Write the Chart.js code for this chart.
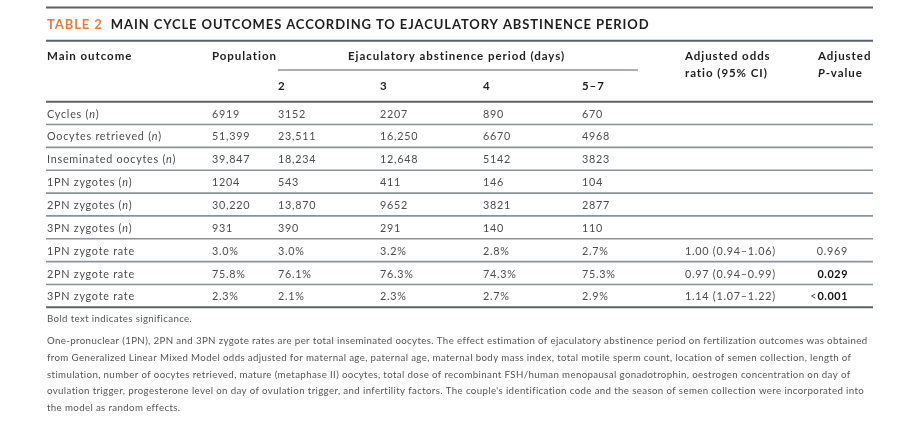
<!DOCTYPE html>
<html>
<head>
<meta charset="utf-8">
<script src="https://cdn.jsdelivr.net/npm/chart.js@4.4.1/dist/chart.umd.min.js"></script>
<style>
  html, body { margin: 0; padding: 0; background: #fff; }
  #wrap { position: relative; width: 920px; height: 431px; }
</style>
</head>
<body>
<div id="wrap"><canvas id="tableChart"></canvas></div>
<script>
// Rows of the table (y categories)
const rowLabels = ["Cycles (n)", "Oocytes retrieved (n)", "Inseminated oocytes (n)", "1PN zygotes (n)",
  "2PN zygotes (n)", "3PN zygotes (n)", "1PN zygote rate", "2PN zygote rate", "3PN zygote rate"];
const abstinenceLabels = ["2", "3", "4", "5–7"];

// Series values, one per column (counts, then rates in %)
const population = [6919, 51399, 39847, 1204, 30220, 931, 3.0, 75.8, 2.3];
const days2 = [3152, 23511, 18234, 543, 13870, 390, 3.0, 76.1, 2.1];
const days3 = [2207, 16250, 12648, 411, 9652, 291, 3.2, 76.3, 2.3];
const days4 = [890, 6670, 5142, 146, 3821, 140, 2.8, 74.3, 2.7];
const days5to7 = [670, 4968, 3823, 104, 2877, 110, 2.7, 75.3, 2.9];

// Adjusted odds ratio (95% CI) and adjusted P-value, only for the rate rows
const oddsRatio = [null, null, null, null, null, null, 1.00, 0.97, 1.14];
const ciLower = [null, null, null, null, null, null, 0.94, 0.94, 1.07];
const ciUpper = [null, null, null, null, null, null, 1.06, 0.99, 1.22];
const pValues = [null, null, null, null, null, null, 0.969, 0.029, 0.001];
const pBelow = [false, false, false, false, false, false, false, false, true];

const footLines = [
  "One-pronuclear (1PN), 2PN and 3PN zygote rates are per total inseminated oocytes. The effect estimation of ejaculatory abstinence period on fertilization outcomes was obtained",
  "from Generalized Linear Mixed Model odds adjusted for maternal age, paternal age, maternal body mass index, total motile sperm count, location of semen collection, length of",
  "stimulation, number of oocytes retrieved, mature (metaphase II) oocytes, total dose of recombinant FSH/human menopausal gonadotrophin, oestrogen concentration on day of",
  "ovulation trigger, progesterone level on day of ovulation trigger, and infertility factors. The couple's identification code and the season of semen collection were incorporated into",
  "the model as random effects."
];

// layout (column left edges in px, rules)
const L = { left: 46, right: 873, label: 47, pop: 212, d: [278, 380, 483, 582], or: 685, p: 848 };
const FONT = "Lato, 'Open Sans', sans-serif";
const TXT = "#4d4d4d", DARK = "#1e1e1e", RULE = "#5d6268", THIN = "#8a939c";

const isRate = rowLabels.map(r => r.indexOf("rate") >= 0);
function fmt(v, i) {
  if (isRate[i]) return v.toFixed(1) + "%";
  return v >= 10000 ? v.toLocaleString("en-US") : String(v);
}

function column(x, texts, extra) {
  const data = [], t = [];
  texts.forEach((s, i) => { if (s !== null) { data.push({ x: x, y: rowLabels[i] }); t.push(Object.assign({ text: s }, extra ? extra(i) : {})); } });
  return { data: data, cells: t, pointRadius: 0, pointHoverRadius: 0 };
}

const datasets = [
  column(L.label, rowLabels, () => ({ kind: "label" })),
  column(L.pop, population.map(fmt)),
  column(L.d[0], days2.map(fmt)),
  column(L.d[1], days3.map(fmt)),
  column(L.d[2], days4.map(fmt)),
  column(L.d[3], days5to7.map(fmt)),
  column(L.or, oddsRatio.map((v, i) => v === null ? null :
    v.toFixed(2) + " (" + ciLower[i].toFixed(2) + "–" + ciUpper[i].toFixed(2) + ")")),
  column(L.p, pValues.map(v => v === null ? null : v.toFixed(3)), i => ({ kind: "p", bold: pValues[i] < 0.05, below: pBelow[i] }))
];

// text styles
const S = {
  title: { size: 13, weight: 700, ls: 0.9 },
  head: { size: 11.5, weight: 700, ls: 0.95 },
  headIt: { size: 11.5, weight: 700, style: "italic", ls: 0.95 },
  body: { size: 10.8, weight: 400, ls: 0.75 },
  bodyIt: { size: 10.8, weight: 400, style: "italic", ls: 0.75 },
  bodyBold: { size: 10.8, weight: 700, ls: 0.6 },
  foot: { size: 9.7, weight: 400, ls: 0.37 }
};
function use(ctx, st) {
  ctx.font = (st.style || "normal") + " " + st.weight + " " + st.size + "px " + FONT;
  ctx.letterSpacing = st.ls + "px";
}
function hline(ctx, x1, x2, y, w, c) {
  ctx.save(); ctx.strokeStyle = c; ctx.lineWidth = w;
  ctx.beginPath(); ctx.moveTo(x1, y); ctx.lineTo(x2, y); ctx.stroke(); ctx.restore();
}
function parts(ctx, list, x, y, align) {
  let w = 0;
  list.forEach(p => { use(ctx, p.st); w += ctx.measureText(p.t).width; });
  let cx = align === "right" ? x - w : x;
  ctx.textAlign = "left";
  list.forEach(p => { use(ctx, p.st); ctx.fillStyle = p.color; ctx.fillText(p.t, cx, y); cx += ctx.measureText(p.t).width; });
}
function text(ctx, s, st, color, x, y, align) {
  use(ctx, st); ctx.fillStyle = color; ctx.textAlign = align || "left"; ctx.fillText(s, x, y);
}

const tablePlugin = {
  id: "tableText",
  beforeDraw(chart) {
    const ctx = chart.ctx, a = chart.chartArea, ys = chart.scales.y;
    ctx.save();
    ctx.fillStyle = "#fff"; ctx.fillRect(0, 0, chart.width, chart.height);
    ctx.textBaseline = "middle";
    // title
    hline(ctx, L.left, L.right, 7.5, 2, RULE);
    parts(ctx, [{ t: "TABLE 2  ", st: S.title, color: "#ee7a3a" },
      { t: "MAIN CYCLE OUTCOMES ACCORDING TO EJACULATORY ABSTINENCE PERIOD", st: S.title, color: DARK }], L.label, 24.5);
    hline(ctx, L.left, L.right, 40.7, 2, RULE);
    // header
    text(ctx, "Main outcome", S.head, DARK, L.label, 56);
    text(ctx, "Population", S.head, DARK, L.pop, 56);
    text(ctx, "Ejaculatory abstinence period (days)", S.head, DARK, 348, 56);
    hline(ctx, L.d[0], 638, 70, 1.6, THIN);
    abstinenceLabels.forEach((s, j) => text(ctx, s, S.head, DARK, L.d[j], 86.5));
    text(ctx, "Adjusted odds", S.head, DARK, L.or, 56);
    text(ctx, "ratio (95% CI)", S.head, DARK, L.or, 73);
    text(ctx, "Adjusted", S.head, DARK, 818, 56);
    parts(ctx, [{ t: "P", st: S.headIt, color: DARK }, { t: "-value", st: S.head, color: DARK }], 818, 73);
    // rules of the body
    hline(ctx, L.left, L.right, a.top, 2, RULE);
    for (let i = 0; i < rowLabels.length - 1; i++) {
      const y = (ys.getPixelForValue(i) + ys.getPixelForValue(i + 1)) / 2;
      hline(ctx, L.left, L.right, y, 1.6, THIN);
    }
    hline(ctx, L.left, L.right, a.bottom, 2, RULE);
    // footnotes
    text(ctx, "Bold text indicates significance.", S.foot, "#555", L.label, a.bottom + 12);
    footLines.forEach((s, k) => text(ctx, s, S.foot, "#555", L.label, a.bottom + 34 + k * 16.6));
    ctx.restore();
  },
  afterDatasetsDraw(chart) {
    const ctx = chart.ctx;
    ctx.save();
    ctx.textBaseline = "middle";
    chart.data.datasets.forEach((ds, d) => {
      chart.getDatasetMeta(d).data.forEach((pt, i) => {
        const c = ds.cells[i], y = pt.y + 1;
        if (c.kind === "label") {
          const k = c.text.indexOf("(n)");
          if (k >= 0) parts(ctx, [{ t: c.text.slice(0, k + 1), st: S.body, color: TXT }, { t: "n", st: S.bodyIt, color: TXT }, { t: ")", st: S.body, color: TXT }], pt.x, y);
          else parts(ctx, [{ t: c.text, st: S.body, color: TXT }], pt.x, y);
        } else if (c.kind === "p") {
          const list = [];
          if (c.below) list.push({ t: "<", st: S.body, color: TXT });
          list.push({ t: c.text, st: c.bold ? S.bodyBold : S.body, color: c.bold ? "#111" : TXT });
          parts(ctx, list, pt.x, y, "right");
        } else {
          parts(ctx, [{ t: c.text, st: S.body, color: TXT }], pt.x, y);
        }
      });
    });
    ctx.restore();
  }
};

new Chart(document.getElementById("tableChart"), {
  type: "scatter",
  data: { datasets: datasets },
  options: {
    responsive: true,
    maintainAspectRatio: false,
    animation: false,
    events: [],
    layout: { padding: { top: 101.7, bottom: 123.7, left: 0, right: 0 } },
    scales: {
      x: { type: "linear", min: 0, max: 920, display: false },
      y: { type: "category", labels: rowLabels, offset: true, display: false }
    },
    plugins: { legend: { display: false }, tooltip: { enabled: false }, title: { display: false } }
  },
  plugins: [tablePlugin]
});
</script>
</body>
</html>
